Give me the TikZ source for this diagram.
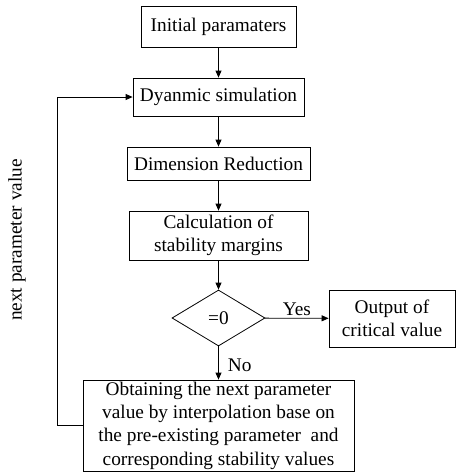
\documentclass[tikz,border=0pt]{standalone}
\usepackage{fontspec}
\setmainfont{Liberation Serif}
\usetikzlibrary{shapes.geometric,arrows.meta}
\tikzset{
  box/.style={draw, line width=0.8pt, inner sep=0pt, align=center, font=\fontsize{19.3}{23.3}\selectfont},
  lbl/.style={inner sep=0pt, font=\fontsize{19.3}{23.3}\selectfont},
  arr/.style={line width=0.8pt, -{Triangle[length=7pt,width=6pt]}},
}
\begin{document}
\begin{tikzpicture}[x=1pt,y=-1pt]
\useasboundingbox (0,0) rectangle (456,472);
\node[box, minimum width=155pt, minimum height=41pt] (init) at (218.5,26.5) {Initial paramaters};
\node[box, minimum width=171pt, minimum height=38pt] (dyn) at (218.5,97) {Dyanmic simulation};
\node[box, minimum width=183pt, minimum height=33pt] (dim) at (218.5,163.5) {Dimension Reduction};
\node[box, minimum width=179pt, minimum height=49pt] (calc) at (218.5,235.5) {Calculation of\\stability margins};
\node[box, diamond, aspect=1.66, minimum width=93pt, minimum height=56pt] (dec) at (218.5,318) {=0};
\node[box, minimum width=126pt, minimum height=57pt] (out) at (392,318.5) {Output of\\critical value};
\node[box, minimum width=271pt, minimum height=91pt] (obt) at (218.5,425.5) {Obtaining the next parameter\\value by interpolation base on\\the pre-existing parameter\ \ and\\corresponding stability values};
\coordinate (lb) at (57,425.5);
\coordinate (lt) at (57,97);
\draw[arr] (init) -- (dyn);
\draw[arr] (dyn) -- (dim);
\draw[arr] (dim) -- (calc);
\draw[arr] (calc) -- (dec);
\draw[arr] (dec) -- node[lbl, above, yshift=2pt] {Yes} (out);
\draw[arr] (dec) -- node[lbl, right, xshift=9pt, yshift=-2pt] {No} (obt);
\draw[arr] (obt.west) -- (lb) -- (lt) -- (dyn.west);
\node[lbl, rotate=90] (np) at (17,240) {next parameter value};
\end{tikzpicture}
\end{document}
